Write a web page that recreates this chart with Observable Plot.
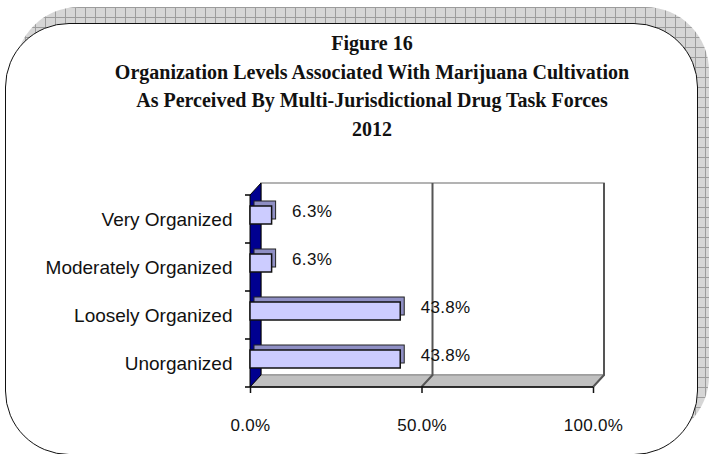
<!DOCTYPE html>
<html><head><meta charset="utf-8">
<script src="https://cdn.jsdelivr.net/npm/d3@7"></script>
<script src="https://cdn.jsdelivr.net/npm/@observablehq/plot@0.6"></script>
<style>
body{margin:0;background:#fff;}
#wrap{position:relative;width:709px;height:454px;overflow:hidden;background:#fff;}
#shadow{position:absolute;left:15px;top:7px;width:694px;height:433px;border-radius:64px;background-color:#d6d6d6;
  background-image:linear-gradient(#9c9c9c 1px, transparent 1px),linear-gradient(90deg,#9c9c9c 1px,transparent 1px);background-size:10px 10px;}
#box{position:absolute;left:5px;top:23px;width:691px;height:430px;border:1.5px solid #111;border-radius:64px;background:#fff;}
#title{position:absolute;left:72px;width:600px;top:29px;text-align:center;font:bold 20px "Liberation Serif","Times New Roman",serif;line-height:28.5px;color:#111;}
#chart{position:absolute;left:0;top:0;}
</style></head>
<body><div id="wrap"><div id="shadow"></div><div id="box"></div><div id="title"></div><div id="chart"></div></div>
<script>
const titleLines = [
  "Figure 16",
  "Organization Levels Associated With Marijuana Cultivation",
  "As Perceived By Multi-Jurisdictional Drug Task Forces",
  "2012"
];
const categories = ["Very Organized", "Moderately Organized", "Loosely Organized", "Unorganized"];
const values = [0.063, 0.063, 0.438, 0.438];
const xTicks = [0, 0.5, 1];

document.getElementById("title").innerHTML = titleLines.map(t => `<div>${t}</div>`).join("");

const data = categories.map((c, i) => ({category: c, value: values[i]}));
const fmt = d3.format(".1%");
const DX = 11, DY = -12;
const sans = '"Liberation Sans",Arial,sans-serif';

function decor(...args) {
  const scales = args.find(a => a && typeof a.x === "function");
  const dims = args.find(a => a && typeof a.marginLeft === "number");
  const x0 = scales.x(0), x1 = scales.x(1);
  const top = dims.marginTop, bot = dims.height - dims.marginBottom;
  const g = d3.create("svg:g");
  g.append("rect").attr("x", x0 + DX).attr("y", top + DY).attr("width", x1 - x0).attr("height", bot - top)
    .attr("fill", "#fff").attr("stroke", "#9a9a9a").attr("stroke-width", 1.5);
  g.append("path").attr("d", `M${x0},${bot}L${x1},${bot}L${x1 + DX},${bot + DY}L${x0 + DX},${bot + DY}Z`)
    .attr("fill", "#c0c0c0").attr("stroke", "#8a8a8a");
  g.append("path").attr("d", `M${x1 + DX},${top + DY}V${bot + DY}L${x1},${bot}`)
    .attr("fill", "none").attr("stroke", "#555").attr("stroke-width", 2);
  xTicks.slice(1, -1).forEach(t => {
    const xm = scales.x(t);
    g.append("path").attr("d", `M${xm + DX},${top + DY}V${bot + DY}L${xm},${bot}`)
      .attr("fill", "none").attr("stroke", "#555").attr("stroke-width", 2);
  });
  g.append("path").attr("d", `M${x0},${top}L${x0 + DX},${top + DY}V${bot + DY}L${x0},${bot}Z`)
    .attr("fill", "#000090").attr("stroke", "#000");
  const n = categories.length;
  for (let i = 0; i <= n; i++) {
    const y = top + (bot - top) * i / n;
    g.append("line").attr("x1", x0 - 5).attr("x2", x0).attr("y1", y).attr("y2", y).attr("stroke", "#000").attr("stroke-width", 1.5);
  }
  g.append("line").attr("x1", x0).attr("x2", x1).attr("y1", bot).attr("y2", bot).attr("stroke", "#000").attr("stroke-width", 1.5);
  return g.node();
}

const chart = Plot.plot({
  width: 709, height: 454,
  marginLeft: 250, marginRight: 116, marginTop: 195, marginBottom: 67,
  style: {background: "transparent", overflow: "visible", fontFamily: sans, fontSize: "17px", color: "#111"},
  x: {domain: [0, 1]},
  y: {domain: categories, padding: 0},
  marks: [
    decor,
    Plot.barX(data, {x: "value", y: "category", fill: "#8f8fc4", stroke: "#222", insetTop: 15, insetBottom: 15, dx: 4, dy: -9}),
    Plot.barX(data, {x: "value", y: "category", fill: "#ccccff", stroke: "#111", strokeWidth: 1.5, insetTop: 15, insetBottom: 15, dy: -4}),
    Plot.text(data, {x: "value", y: "category", text: d => fmt(d.value), textAnchor: "start", dx: 20, dy: -8, fontSize: 17, fill: "#111"}),
    Plot.axisX(xTicks, {tickSize: 6, tickPadding: 25, tickFormat: fmt, fontSize: 17, strokeWidth: 1.5, label: null}),
    Plot.axisY({tickSize: 0, tickPadding: 18, fontSize: 19, label: null})
  ]
});
chart.querySelectorAll('[aria-label="x-axis tick label"] text, [aria-label="text"] text').forEach(t => t.setAttribute("letter-spacing", "0.3"));
document.getElementById("chart").appendChild(chart);
</script>
</body></html>
